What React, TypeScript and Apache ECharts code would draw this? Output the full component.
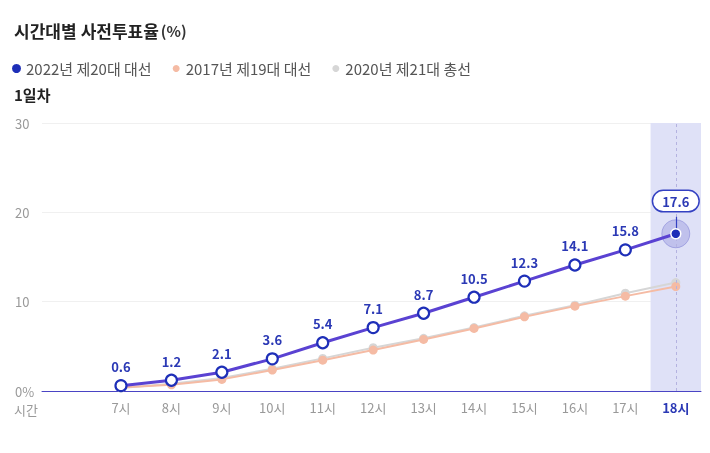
import React, { useEffect, useRef } from "react";
import * as echarts from "echarts";

const hours = [7, 8, 9, 10, 11, 12, 13, 14, 15, 16, 17, 18];
const vote2022 = [0.6, 1.2, 2.1, 3.6, 5.4, 7.1, 8.7, 10.5, 12.3, 14.1, 15.8, 17.6];
const vote2017 = [0.38, 0.7, 1.3, 2.35, 3.45, 4.58, 5.77, 7.0, 8.3, 9.5, 10.62, 11.7];
const vote2020 = [0.33, 0.8, 1.45, 2.5, 3.65, 4.85, 5.9, 7.1, 8.42, 9.6, 10.95, 12.14];
const yTicks = [0, 10, 20, 30];
const seriesNames = ["2022년 제20대 대선", "2017년 제19대 대선", "2020년 제21대 총선"];
const lastHour = 18;

const FONT = "'Noto Sans CJK KR', 'Noto Sans', sans-serif";

export default function App() {
  const ref = useRef<HTMLDivElement>(null);
  useEffect(() => {
    if (!ref.current) return;
    const chart = echarts.init(ref.current, undefined, { renderer: "svg" });
    const pairs = (arr: number[]) => hours.map((h, i) => [h, arr[i]]);
    const lastIdx = hours.length - 1;
    const d2022: any[] = pairs(vote2022).map((p, i) =>
      i === lastIdx
        ? {
            value: p,
            symbol: "circle",
            symbolSize: 10,
            itemStyle: { color: "#1e2fb8", borderColor: "#ffffff", borderWidth: 1.5 },
            label: {
              show: true,
              position: "top",
              distance: 17,
              backgroundColor: "#ffffff",
              borderColor: "#3441c2",
              borderWidth: 1.5,
              borderRadius: 12,
              padding: [4, 9, 3, 9],
              color: "#2b39b5",
              fontSize: 13,
              fontWeight: "bold",
            },
          }
        : { value: p, itemStyle: { color: "#ffffff", borderColor: "#1e2fb8", borderWidth: 2.2 } }
    );
    chart.setOption({
      animation: false,
      textStyle: { fontFamily: FONT },
      title: {
        text: "{a|시간대별} {b|사전투표율}{c|(%)}",
        left: 14,
        top: 21,
        padding: 0,
        textStyle: {
          rich: {
            a: { fontSize: 17, fontWeight: "bold", color: "#222", fontFamily: FONT },
            b: { fontSize: 17, color: "#222", fontFamily: FONT },
            c: { fontSize: 15, color: "#333", fontFamily: FONT, padding: [0, 0, 0, 2] },
          },
        },
      },
      legend: {
        left: 12,
        top: 61,
        padding: 0,
        icon: "circle",
        itemWidth: 7,
        itemHeight: 7,
        itemGap: 21,
        data: seriesNames,
        textStyle: { fontSize: 15, color: "#555", fontFamily: FONT, padding: [0, 0, 0, 1] },
      },
      graphic: [
        {
          type: "text",
          left: 14,
          top: 87,
          style: { text: "1일차", fontSize: 15, fontWeight: "bold", fill: "#222", fontFamily: FONT },
        },
        {
          type: "text",
          left: 14,
          top: 403,
          style: { text: "시간", fontSize: 13, fill: "#999", fontFamily: FONT },
        },
      ],
      grid: { left: 42, right: 9, top: 123, bottom: 62 },
      xAxis: {
        type: "value",
        min: 5.434,
        max: 18.5,
        axisLine: { show: true, lineStyle: { color: "#4a44c4", width: 1 } },
        axisTick: { show: false },
        splitLine: { show: false },
        axisLabel: {
          customValues: hours,
          margin: 10,
          fontSize: 13,
          color: "#999",
          fontFamily: FONT,
          formatter: (v: number) => (v === lastHour ? `{b|${v}시}` : `${v}시`),
          rich: { b: { fontSize: 13, fontWeight: "bold", color: "#2b39b5", fontFamily: FONT } },
        },
      },
      yAxis: {
        type: "value",
        min: 0,
        max: 30,
        interval: 10,
        axisLine: { show: false },
        axisTick: { show: false },
        splitLine: { lineStyle: { color: "#f0f0f0", width: 1 } },
        axisLabel: {
          align: "left",
          margin: 27,
          fontSize: 13,
          lineHeight: 13,
          color: "#999",
          fontFamily: FONT,
          customValues: yTicks,
          formatter: (v: number) => (v === 0 ? "0%" : String(v)),
        },
      },
      series: [
        {
          name: seriesNames[2],
          type: "line",
          data: pairs(vote2020),
          symbol: "circle",
          symbolSize: 9,
          itemStyle: { color: "#d6d6d6" },
          lineStyle: { color: "#d6d6d6", width: 2 },
          z: 2,
        },
        {
          name: seriesNames[1],
          type: "line",
          data: pairs(vote2017),
          symbol: "circle",
          symbolSize: 9,
          itemStyle: { color: "#f5bba4" },
          lineStyle: { color: "#f5bba4", width: 2 },
          z: 3,
        },
        {
          name: "halo",
          type: "scatter",
          data: [[lastHour, vote2022[lastIdx]]],
          symbolSize: 28,
          itemStyle: { color: "rgba(110,110,210,0.35)", borderColor: "rgba(90,90,200,0.45)", borderWidth: 1 },
          silent: true,
          z: 4,
        },
        {
          name: seriesNames[0],
          type: "line",
          data: d2022,
          symbol: "circle",
          symbolSize: 11,
          showAllSymbol: true,
          itemStyle: { color: "#1e2fb8", borderColor: "#1e2fb8", borderWidth: 2.2 },
          lineStyle: { color: "#5a42d2", width: 3 },
          z: 5,
          label: {
            show: true,
            position: "top",
            distance: 6,
            color: "#2b39b5",
            fontSize: 13,
            fontWeight: "bold",
            fontFamily: FONT,
            formatter: (p: any) => p.value[1].toFixed(1),
          },
          markArea: {
            silent: true,
            itemStyle: { color: "#dfe1f7" },
            data: [[{ xAxis: lastHour - 0.5 }, { xAxis: lastHour + 0.5 }]],
          },
          markLine: {
            silent: true,
            symbol: "none",
            label: { show: false },
            data: [
              [
                { coord: [lastHour, 0], lineStyle: { color: "#b4b2e0", type: [3, 3], width: 1 } },
                { coord: [lastHour, 30] },
              ],
              [
                { coord: [lastHour, vote2022[lastIdx]], lineStyle: { color: "#3441c2", type: "solid", width: 1.2 } },
                { coord: [lastHour, 19.5] },
              ],
            ],
          },
        },
      ],
    });
    return () => chart.dispose();
  }, []);
  return <div ref={ref} style={{ position: "fixed", left: 0, top: 0, width: 710, height: 453 }} />;
}
